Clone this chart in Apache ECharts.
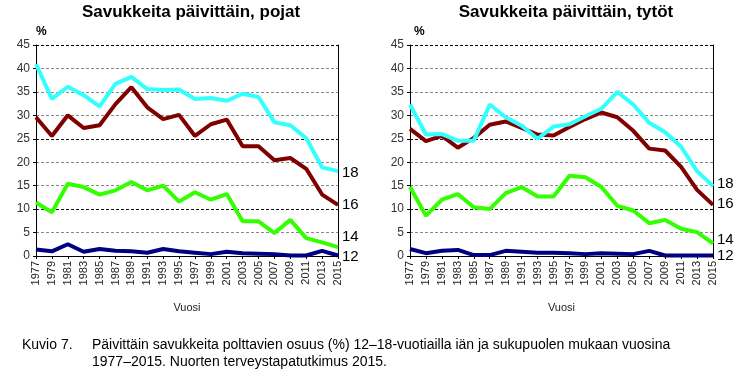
<!DOCTYPE html>
<html><head><meta charset="utf-8">
<script src="https://cdn.jsdelivr.net/npm/echarts@6/dist/echarts.min.js"></script>
<style>html,body{margin:0;padding:0;background:#fff}#c{width:756px;height:372px}</style>
</head><body><div id="c"></div>
<script>
const years = ['1977','1979','1981','1983','1985','1987','1989','1991','1993','1995','1997','1999','2001','2003','2005','2007','2009','2011','2013','2015'];
const ageLabels = ['18','16','14','12'];
// Pojat (boys)
const boys18 = [40.9,33.5,36.1,34.3,31.9,36.7,38.2,35.6,35.4,35.5,33.5,33.7,33.1,34.6,33.9,28.5,27.9,25.1,18.9,18.1];
const boys16 = [29.6,25.6,30.0,27.3,27.9,32.4,36.0,31.7,29.2,30.1,25.6,28.1,29.1,23.4,23.4,20.4,20.9,18.6,13.1,10.9];
const boys14 = [11.4,9.3,15.4,14.7,13.1,14.0,15.8,14.0,15.0,11.6,13.6,12.0,13.2,7.4,7.4,4.9,7.7,3.8,2.9,1.9];
const boys12 = [1.4,1.0,2.5,0.9,1.5,1.1,1.0,0.7,1.5,1.0,0.7,0.4,0.9,0.6,0.5,0.4,0.1,0.1,1.1,0.1];
// Tytöt (girls)
const girls18 = [32.3,25.9,26.0,24.6,24.6,32.3,29.6,27.8,25.0,27.6,28.1,29.8,31.4,35.0,32.3,28.4,26.4,23.3,18.1,14.9];
const girls16 = [27.1,24.5,25.6,23.1,25.2,28.0,28.7,27.3,25.9,25.7,27.5,29.2,30.6,29.6,26.7,22.9,22.5,19.0,14.1,10.9];
const girls14 = [14.7,8.6,12.0,13.2,10.4,10.0,13.4,14.7,12.7,12.7,17.1,16.8,14.7,10.7,9.7,7.0,7.7,5.8,5.1,2.7];
const girls12 = [1.5,0.6,1.1,1.3,0.2,0.2,1.1,0.9,0.7,0.7,0.6,0.4,0.6,0.5,0.4,1.1,0.1,0.1,0.1,0.1];
const yTicks = [0,5,10,15,20,25,30,35,40,45];
const titles = ['Savukkeita päivittäin, pojat','Savukkeita päivittäin, tytöt'];

const colors = ['#33FFFF','#800000','#33FF00','#000080'];
const font = 'Arial, "Liberation Sans", sans-serif';
const grids = [
  {left:36, right:418, top:45, bottom:116},
  {left:410, right:43, top:45, bottom:116}
];
const gridColor = ['#888','#888','#111','#888','#888','#111','#888','#888','#888','#000'];

function xAxis(i){
  return {type:'category', gridIndex:i, data:years, boundaryGap:false,
    axisLine:{lineStyle:{color:'#000',width:1}},
    axisTick:{show:true, inside:false, length:3, lineStyle:{color:'#000'}},
    axisLabel:{rotate:90, fontSize:11, color:'#222', fontFamily:font, margin:5, interval:0},
    name:'Vuosi', nameLocation:'middle', nameGap:46,
    nameTextStyle:{fontSize:11, color:'#222', fontFamily:font}
  };
}
function yAxis(i){
  return {type:'value', gridIndex:i, min:yTicks[0], max:yTicks[yTicks.length-1], interval:5,
    axisLine:{show:true, lineStyle:{color:'#000'}},
    axisTick:{show:true, length:3, lineStyle:{color:'#000'}},
    axisLabel:{fontSize:12, color:'#333', fontFamily:font, margin:6},
    splitLine:{show:true, lineStyle:{color:gridColor, type:[3,2], width:1}}
  };
}
function yAxisR(i){
  return {type:'value', gridIndex:i, min:0, max:45, interval:5, position:'right',
    axisLine:{show:true, onZero:false, lineStyle:{color:'#000'}},
    axisTick:{show:false}, axisLabel:{show:false}, splitLine:{show:false}};
}
const offsetsBoys = [[0,2],[0,0],[0,-10],[0,1]];
const offsetsGirls = [[0,-2],[0,-1],[0,-3],[0,0]];

function mk(name, data, idx, gi, off){
  return {type:'line', name:name, data:data, xAxisIndex:gi, yAxisIndex:gi*2,
    symbol:'none', smooth:false, lineStyle:{width:4, color:colors[idx]}, color:colors[idx],
    z: 5 - idx,
    endLabel:{show:true, formatter:name, fontSize:15, color:'#000', fontFamily:font, distance:4, offset:off},
    emphasis:{disabled:true}};
}
const series = [];
[boys18,boys16,boys14,boys12].forEach((d,k)=>series.push(mk(ageLabels[k], d, k, 0, offsetsBoys[k])));
[girls18,girls16,girls14,girls12].forEach((d,k)=>series.push(mk(ageLabels[k], d, k, 1, offsetsGirls[k])));

const chart = echarts.init(document.getElementById('c'), null, {renderer:'canvas'});
chart.setOption({
  animation:false,
  backgroundColor:'#fff',
  title:[
    {text:titles[0], left:191, top:4, padding:0, textAlign:'center', textStyle:{fontSize:17, fontWeight:'bold', color:'#000', fontFamily:font}},
    {text:titles[1], left:566, top:4, padding:0, textAlign:'center', textStyle:{fontSize:17, fontWeight:'bold', color:'#000', fontFamily:font}},
    {text:'%', left:36, top:26, padding:0, textStyle:{fontSize:12, fontWeight:'bold', color:'#000', fontFamily:font}},
    {text:'%', left:414, top:26, padding:0, textStyle:{fontSize:12, fontWeight:'bold', color:'#000', fontFamily:font}},
    {text:'Kuvio 7.', left:22, top:337, padding:0, textStyle:{fontSize:14, fontWeight:'normal', color:'#000', fontFamily:font, lineHeight:17}},
    {text:'Päivittäin savukkeita polttavien osuus (%) 12–18-vuotiailla iän ja sukupuolen mukaan vuosina\n1977–2015. Nuorten terveystapatutkimus 2015.', left:92, top:337, padding:0,
      textStyle:{fontSize:14, fontWeight:'normal', color:'#000', fontFamily:font, lineHeight:17}}
  ],
  grid:grids,
  xAxis:[xAxis(0), xAxis(1)],
  yAxis:[yAxis(0), yAxisR(0), yAxis(1), yAxisR(1)],
  series:series
});
</script></body></html>
